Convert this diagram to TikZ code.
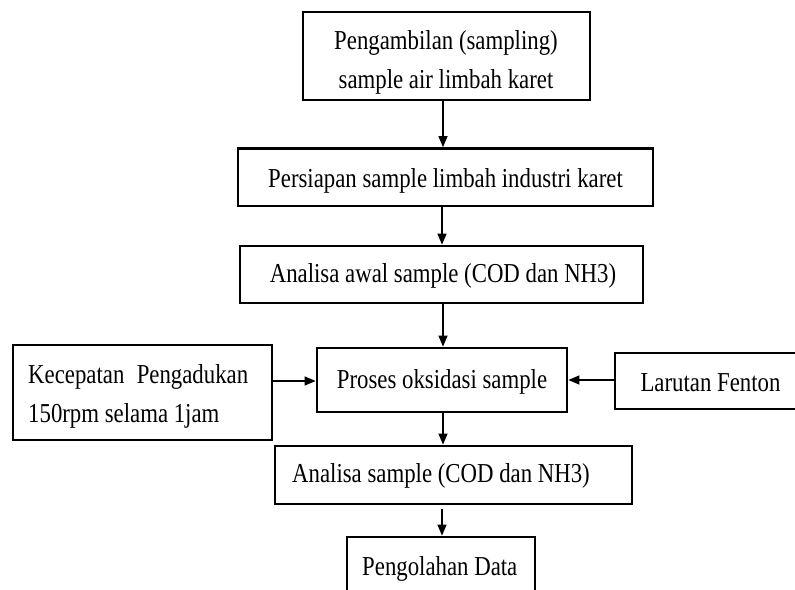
\documentclass[tikz,border=0pt]{standalone}
\usepackage{fontspec}
\usepackage{graphicx}
\setmainfont{Liberation Serif}
\usetikzlibrary{arrows.meta}
\newcommand{\tallt}[1]{\scalebox{1}[1.2]{#1}}
\begin{document}
\begin{tikzpicture}[x=1pt,y=-1pt,
  box/.style={draw=black,line width=2.8pt,rectangle,inner sep=0pt,fill=white},
  txt/.style={inner sep=0pt,font=\fontsize{22.8}{39}\selectfont},
  arr/.style={draw=black,line width=1.3pt,-{Triangle[length=11pt,width=9pt]}}]
\useasboundingbox (0,0) rectangle (795,589);
\clip (0,0) rectangle (795,589);
\fill[white] (0,0) rectangle (795,589);
% boxes
\node[box,minimum width=287pt,minimum height=88pt] (b1) at (446.5,56) {};
\node[box,minimum width=415pt,minimum height=57.5pt] (b2) at (445.5,177.25) {};
\node[box,minimum width=403pt,minimum height=57pt] (b3) at (441.5,274.5) {};
\node[box,minimum width=250pt,minimum height=64pt] (bp) at (442,380) {};
\node[box,minimum width=259pt,minimum height=95pt] (bk) at (142.5,392.5) {};
\node[box,minimum width=215pt,minimum height=56pt] (bl) at (722.5,381) {};
\node[box,minimum width=357pt,minimum height=58pt] (b5) at (453.5,475) {};
\node[box,minimum width=188pt,minimum height=83pt] (b6) at (441,578.5) {};
% texts
\node[txt,anchor=base] (t1a) at (446,49.5) {\tallt{Pengambilan (sampling)}};
\node[txt,anchor=base] (t1b) at (446,88.5) {\tallt{sample air limbah karet}};
\node[txt,anchor=base] (t2) at (445.5,187) {\tallt{Persiapan sample limbah industri karet}};
\node[txt,anchor=base] (t3) at (443,282) {\tallt{Analisa awal sample (COD dan NH3)}};
\node[txt,anchor=base] (tp) at (442,388) {\tallt{Proses oksidasi sample}};
\node[txt,anchor=base west] (tk1) at (28,383) {\tallt{\hbox to 220pt{Kecepatan\hfill Pengadukan}}};
\node[txt,anchor=base west] (tk2) at (28,422) {\tallt{150rpm selama 1jam}};
\node[txt,anchor=base] (tl) at (710.5,391) {\tallt{Larutan Fenton}};
\node[txt,anchor=base west] (t5) at (292,482) {\tallt{Analisa sample (COD dan NH3)}};
\node[txt,anchor=base west] (t6) at (362,575) {\tallt{Pengolahan Data}};
% connector guides
\coordinate (xa) at (443,0);
\coordinate (xb) at (442,0);
\coordinate (yl) at (0,381);
\coordinate (yr) at (0,380);
% connectors
\draw[arr] (b1.south -| xa) -- (b2.north -| xa);
\draw[arr] (b2.south -| xb) -- (b3.north -| xb);
\draw[arr] (b3.south -| xa) -- (bp.north -| xa);
\draw[arr] (bp.south -| xa) -- (b5.north -| xa);
\draw[arr,shorten <=4pt] (b5.south -| xb) -- (b6.north -| xb);
\draw[arr] (bk.east |- yl) -- (bp.west |- yl);
\draw[arr] (bl.west |- yr) -- (bp.east |- yr);
\end{tikzpicture}
\end{document}
